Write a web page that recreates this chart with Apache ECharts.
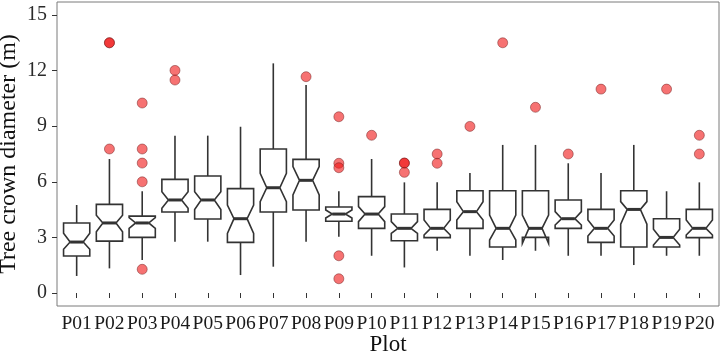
<!DOCTYPE html>
<html>
<head>
<meta charset="utf-8">
<script src="https://cdn.jsdelivr.net/npm/echarts@6/dist/echarts.min.js"></script>
<style>html,body{margin:0;padding:0;background:#fff;}#c{width:721px;height:355px;}</style>
</head>
<body>
<div id="c"></div>
<script>
const categories = ['P01','P02','P03','P04','P05','P06','P07','P08','P09','P10','P11','P12','P13','P14','P15','P16','P17','P18','P19','P20'];
const whiskerLow  = [0.92,1.33,1.78,2.77,2.77,0.97,1.42,2.77,3.04,2.01,1.38,2.28,2.01,1.78,2.28,2.01,2.01,1.51,2.01,2.01];
const q1          = [2.00,2.80,3.00,4.37,3.99,2.73,4.37,4.48,3.87,3.49,2.82,2.99,3.49,2.48,3.00,3.49,2.73,2.48,2.48,2.99];
const notchLow    = [2.36,3.31,3.49,4.57,4.51,3.22,4.93,5.29,4.05,3.85,3.22,3.13,3.94,2.86,2.68,3.67,3.08,3.72,2.59,3.13];
const median      = [2.75,3.78,3.78,5.02,5.02,4.01,5.68,6.08,4.26,4.26,3.49,3.49,4.39,3.49,3.49,4.01,3.49,4.51,3.00,3.49];
const notchHigh   = [3.22,4.20,4.07,5.47,5.47,4.75,6.46,6.82,4.48,4.66,3.85,3.94,4.93,4.21,4.21,4.39,3.94,4.93,3.44,3.94];
const q3          = [3.78,4.78,4.15,6.13,6.31,5.63,7.77,7.21,4.64,5.20,4.26,4.51,5.52,5.52,5.52,5.02,4.51,5.52,4.01,4.51];
const whiskerHigh = [4.75,7.23,5.49,8.49,8.49,8.97,12.39,11.22,5.49,7.23,5.97,5.97,6.47,7.99,7.99,7.00,6.47,7.99,5.49,5.97];
const outlierPlot  = ['P02','P02','P02','P03','P03','P03','P03','P03','P04','P04','P08','P09','P09','P09','P09','P09','P10','P11','P11','P11','P12','P12','P13','P14','P15','P16','P17','P19','P20','P20'];
const outlierValue = [13.5,13.5,7.77,10.25,7.77,7.01,6.0,1.28,12.01,11.49,11.67,9.51,7.0,6.76,2.01,0.77,8.51,7.01,7.01,6.51,7.5,7.0,8.99,13.5,10.02,7.5,11.0,11.0,8.51,7.5];
const yTicks = [0,3,6,9,12,15];

const boxData = categories.map((c, i) => [i + 1, whiskerLow[i], q1[i], notchLow[i], median[i], notchHigh[i], q3[i], whiskerHigh[i]]);
const outData = outlierPlot.map((p, i) => [categories.indexOf(p) + 1, outlierValue[i]]);
const xPos = categories.map((c, i) => i + 1);

const font = 'Liberation Serif';
const lineCol = '#333333';

function renderBox(params, api) {
  const x = api.value(0);
  const wl = api.value(1), lo = api.value(2), nl = api.value(3), md = api.value(4), nh = api.value(5), hi = api.value(6), wh = api.value(7);
  const w = 0.4, wn = 0.2;
  const p = (xv, yv) => api.coord([xv, yv]);
  const style = {stroke: lineCol, lineWidth: 1.6, fill: null};
  return {
    type: 'group',
    children: [
      {type: 'line', shape: {x1: p(x, hi)[0], y1: p(x, hi)[1], x2: p(x, wh)[0], y2: p(x, wh)[1]}, style: style},
      {type: 'line', shape: {x1: p(x, lo)[0], y1: p(x, lo)[1], x2: p(x, wl)[0], y2: p(x, wl)[1]}, style: style},
      {type: 'polygon', shape: {points: [
        p(x - w, hi), p(x + w, hi), p(x + w, nh), p(x + wn, md), p(x + w, nl), p(x + w, lo),
        p(x - w, lo), p(x - w, nl), p(x - wn, md), p(x - w, nh)
      ]}, style: {stroke: lineCol, lineWidth: 1.6, fill: '#ffffff', lineJoin: 'miter'}},
      {type: 'line', shape: {x1: p(x - wn, md)[0], y1: p(x - wn, md)[1], x2: p(x + wn, md)[0], y2: p(x + wn, md)[1]}, style: {stroke: lineCol, lineWidth: 3}}
    ]
  };
}

const chart = echarts.init(document.getElementById('c'), null, {renderer: 'canvas'});
chart.setOption({
  animation: false,
  backgroundColor: '#ffffff',
  grid: {left: 57, top: 2, width: 662, height: 304, show: true, borderColor: '#7a7a7a', borderWidth: 1, backgroundColor: '#ffffff', containLabel: false, outerBoundsMode: 'none'},
  xAxis: {
    type: 'value', min: 0.4, max: 20.6,
    name: 'Plot', nameLocation: 'middle', nameGap: 27, nameMoveOverlap: false,
    nameTextStyle: {fontFamily: font, fontSize: 23, color: '#111'},
    axisLine: {show: false},
    splitLine: {show: false},
    axisTick: {show: true, customValues: xPos, length: 5, lineStyle: {color: lineCol, width: 1}},
    axisLabel: {customValues: xPos, margin: 8, fontFamily: font, fontSize: 19.5, color: '#1a1a1a',
      formatter: v => categories[Math.round(v) - 1] || ''}
  },
  yAxis: {
    type: 'value', min: -0.7, max: 15.7,
    name: 'Tree crown diameter (m)', nameLocation: 'middle', nameGap: 36, nameMoveOverlap: false,
    nameTextStyle: {fontFamily: font, fontSize: 24, color: '#111'},
    axisLine: {show: false},
    splitLine: {show: false},
    axisTick: {show: true, customValues: yTicks, length: 5, lineStyle: {color: lineCol, width: 1}},
    axisLabel: {customValues: yTicks, margin: 10, fontFamily: font, fontSize: 20, color: '#2a2a2a'}
  },
  series: [
    {type: 'custom', renderItem: renderBox, data: boxData, encode: {x: 0, y: [1, 7]}, z: 2},
    {type: 'scatter', data: outData, symbol: 'circle', symbolSize: 10, z: 3,
      itemStyle: {color: 'rgba(240,20,20,0.75)', borderColor: 'rgba(110,30,30,0.75)', borderWidth: 0.8}}
  ]
});
</script>
</body>
</html>
